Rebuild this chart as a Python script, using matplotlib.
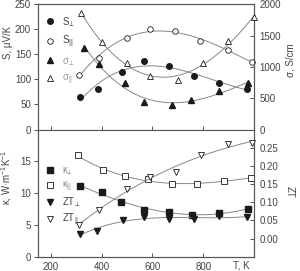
import numpy as np
import matplotlib
matplotlib.use('Agg')
import matplotlib.pyplot as plt
from matplotlib.lines import Line2D

plt.rcParams['font.family'] = ['Liberation Sans', 'DejaVu Sans']
plt.rcParams['mathtext.fontset'] = 'custom'
plt.rcParams['mathtext.rm'] = 'Liberation Sans'
plt.rcParams['mathtext.it'] = 'Liberation Sans:italic'

# top panel: Seebeck coefficient (left) and conductivity (right)
T_S_perp = [315, 385, 482, 567, 667, 765, 861, 974]
S_perp = [64, 81, 114, 137, 127, 106, 93, 81]
T_S_par = [311, 391, 500, 590, 690, 786, 897, 991]
S_par = [109, 143, 183, 201, 196, 177, 158, 135]
T_sig_perp = [331, 390, 490, 567, 676, 752, 860, 975]
sig_perp = [1306, 1045, 746, 437, 384, 469, 618, 736]
T_sig_par = [318, 402, 500, 590, 700, 797, 898, 1000]
sig_par = [1856, 1402, 1066, 853, 789, 1056, 1408, 1792]

# bottom panel: thermal conductivity (left) and ZT (right)
T_k_perp = [315, 401, 477, 565, 665, 756, 861, 975]
k_perp = [11.05, 10.2, 8.6, 7.4, 7.06, 6.63, 6.8, 7.5]
T_k_par = [306, 404, 492, 582, 678, 777, 882, 988]
k_par = [15.95, 13.6, 12.75, 12.15, 11.45, 11.4, 11.95, 12.4]
T_zt_perp = [315, 383, 486, 567, 667, 765, 862, 974]
zt_perp = [0.012, 0.022, 0.052, 0.058, 0.053, 0.055, 0.062, 0.059]
T_zt_par = [311, 391, 501, 589, 694, 790, 897, 992]
zt_par = [0.038, 0.079, 0.137, 0.168, 0.183, 0.231, 0.259, 0.263]

txt = '#444444'
frame = '#555555'
fitc = '#888888'
mk = '#1a1a1a'


def fit_line(ax, x, y, deg=3):
    c = np.polyfit(x, y, deg)
    xx = np.linspace(min(x), max(x), 100)
    ax.plot(xx, np.polyval(c, xx), color=fitc, lw=0.7, zorder=1)


def style(ax):
    for s in ax.spines.values():
        s.set_color(frame)
        s.set_linewidth(0.8)
    ax.tick_params(colors=frame, labelcolor=txt, labelsize=7, length=3, width=0.7)


fig = plt.figure(figsize=(3.0, 2.71), dpi=100)
ax1 = fig.add_axes([0.127, 0.522, 0.72, 0.462])
ax2 = fig.add_axes([0.127, 0.0528, 0.72, 0.4692])
ax1r = ax1.twinx()
ax2r = ax2.twinx()

for a in (ax1, ax2, ax1r, ax2r):
    style(a)
    a.set_xlim(150, 1000)

# top panel
ax1.set_ylim(0, 250)
ax1r.set_ylim(0, 2000)
ax1.set_yticks([0, 50, 100, 150, 200, 250])
ax1r.set_yticks([0, 500, 1000, 1500, 2000])
ax1.set_xticks([200, 400, 600, 800])
ax1.tick_params(axis='x', direction='in', labelbottom=False)
ax1.tick_params(axis='y', direction='out', pad=2)
ax1r.tick_params(axis='y', direction='in', pad=4)

fit_line(ax1, T_S_perp, S_perp)
fit_line(ax1, T_S_par, S_par)
fit_line(ax1r, T_sig_perp, sig_perp)
fit_line(ax1r, T_sig_par, sig_par)
ax1.plot(T_S_perp, S_perp, 'o', ms=4, color=mk, ls='none', clip_on=False, zorder=3)
ax1.plot(T_S_par, S_par, 'o', ms=4, mfc='white', mec=mk, mew=0.6, ls='none', clip_on=False, zorder=3)
ax1r.plot(T_sig_perp, sig_perp, '^', ms=4, color=mk, ls='none', clip_on=False, zorder=3)
ax1r.plot(T_sig_par, sig_par, '^', ms=4, mfc='white', mec=mk, mew=0.6, ls='none', clip_on=False, zorder=3)

ax1.set_ylabel('S, \u03bcV/K', color=txt, fontsize=7)
ax1.yaxis.set_label_coords(-0.115, 0.7)
ax1r.set_ylabel('\u03c3, S/cm', color=txt, fontsize=7, rotation=90, va='center')
ax1r.yaxis.set_label_coords(1.17, 0.55)

h1 = [Line2D([], [], marker='o', ls='none', ms=4, color=mk),
      Line2D([], [], marker='o', ls='none', ms=4, mfc='white', mec=mk, mew=0.6),
      Line2D([], [], marker='^', ls='none', ms=4, color=mk),
      Line2D([], [], marker='^', ls='none', ms=4, mfc='white', mec=mk, mew=0.6)]
l1 = ['S$_\u22a5$', 'S$_{||}$', '\u03c3$_\u22a5$', '\u03c3$_{||}$']
leg = ax1.legend(h1, l1, loc='upper left', bbox_to_anchor=(0.0, 0.97), frameon=False,
                 fontsize=7, handlelength=1.0, handletextpad=0.8, labelspacing=0.55,
                 borderaxespad=0.3)
for i, t in enumerate(leg.get_texts()):
    t.set_color(txt if i < 2 else '#999999')

# bottom panel
ax2.set_ylim(0, 20)
ax2r.set_ylim(-0.05, 0.30)
ax2.set_yticks([0, 5, 10, 15])
ax2r.set_yticks([0.00, 0.05, 0.10, 0.15, 0.20, 0.25])
ax2r.set_yticklabels(['0.00', '0.05', '0.10', '0.15', '0.20', '0.25'])
ax2.set_xticks([200, 400, 600, 800])
ax2.tick_params(axis='x', direction='in', pad=4)
ax2.tick_params(axis='y', direction='out', pad=2)
ax2r.tick_params(axis='y', direction='in', pad=4)
ax2.spines['top'].set_visible(False)
ax2r.spines['top'].set_visible(False)

fit_line(ax2, T_k_perp, k_perp)
fit_line(ax2, T_k_par, k_par)
fit_line(ax2r, T_zt_perp, zt_perp)
fit_line(ax2r, T_zt_par, zt_par)
ax2.plot(T_k_perp, k_perp, 's', ms=4, color=mk, ls='none', clip_on=False, zorder=3)
ax2.plot(T_k_par, k_par, 's', ms=4, mfc='white', mec=mk, mew=0.6, ls='none', clip_on=False, zorder=3)
ax2r.plot(T_zt_perp, zt_perp, 'v', ms=4, color=mk, ls='none', clip_on=False, zorder=3)
ax2r.plot(T_zt_par, zt_par, 'v', ms=4, mfc='white', mec=mk, mew=0.6, ls='none', clip_on=False, zorder=3)

ax2.set_ylabel('\u03ba, W\u00b7m$^{-1}$K$^{-1}$', color=txt, fontsize=7)
ax2.yaxis.set_label_coords(-0.11, 0.62)
ax2r.set_ylabel('ZT', color=txt, fontsize=7, rotation=270, va='center')
ax2r.yaxis.set_label_coords(1.165, 0.51)
ax2.text(0.94, -0.068, 'T, K', transform=ax2.transAxes, ha='center', va='center',
         fontsize=7, color=txt)

h2 = [Line2D([], [], marker='s', ls='none', ms=4, color=mk),
      Line2D([], [], marker='s', ls='none', ms=4, mfc='white', mec=mk, mew=0.6),
      Line2D([], [], marker='v', ls='none', ms=4, color=mk),
      Line2D([], [], marker='v', ls='none', ms=4, mfc='white', mec=mk, mew=0.6)]
l2 = ['\u03ba$_\u22a5$', '\u03ba$_{||}$', 'ZT$_\u22a5$', 'ZT$_{||}$']
leg2 = ax2.legend(h2, l2, loc='upper left', bbox_to_anchor=(0.0, 0.77), frameon=False,
                  fontsize=7, handlelength=1.0, handletextpad=0.8, labelspacing=0.2,
                  borderaxespad=0.3)
for i, t in enumerate(leg2.get_texts()):
    t.set_color('#888888' if i < 2 else txt)

fig.savefig('out.png', dpi=100)
